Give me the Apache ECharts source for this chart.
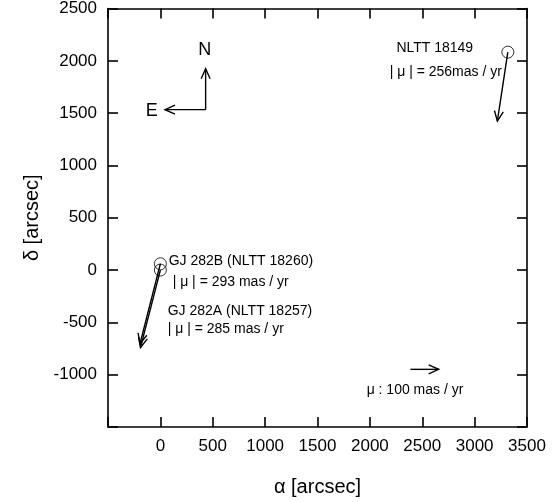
<!DOCTYPE html>
<html>
<head>
<meta charset="utf-8">
<script src="https://cdn.jsdelivr.net/npm/echarts@6/dist/echarts.min.js"></script>
<style>
html, body { margin: 0; padding: 0; background: #fff; }
#main { width: 558px; height: 502px; }
</style>
</head>
<body>
<div id="main"></div>
<script>
// star positions [alpha, delta] in arcsec
var stars = [[3317, 2083], [0, 60], [0, 0]];
// proper motion arrows [x0, y0, x1, y1]
var motions = [
    [3317, 2083, 3217, 1424],
    [0, 60, -195, -705],
    [0, 0, -190, -740]
];
// compass and scale arrows
var compass = [[432, 1533, 432, 1924], [432, 1533, 44, 1533]];
var scaleArrow = [[2387, -949, 2657, -949]];
// text notes [x, y, text]
var notes = [
    [2253, 2118, 'NLTT 18149'],
    [2189, 1889, '| μ | = 256mas / yr'],
    [79, 85, 'GJ 282B (NLTT 18260)'],
    [117, -116, '| μ | = 293 mas / yr'],
    [70, -393, 'GJ 282A (NLTT 18257)'],
    [70, -565, '| μ | = 285 mas / yr'],
    [1969, -1147, 'μ : 100 mas / yr']
];
var compassLabels = [[424, 2099, 'N'], [-83, 1517, 'E']];

var font = "'Liberation Sans', Arial, sans-serif";
var myChart = echarts.init(document.getElementById('main'));

function renderArrow(params, api) {
    var p0 = api.coord([api.value(0), api.value(1)]);
    var p1 = api.coord([api.value(2), api.value(3)]);
    var ang = Math.atan2(p1[1] - p0[1], p1[0] - p0[0]);
    var h = 11, a = 0.42;
    var l = [p1[0] - h * Math.cos(ang - a), p1[1] - h * Math.sin(ang - a)];
    var r = [p1[0] - h * Math.cos(ang + a), p1[1] - h * Math.sin(ang + a)];
    return {
        type: 'group',
        children: [
            { type: 'line', shape: { x1: p0[0], y1: p0[1], x2: p1[0], y2: p1[1] },
              style: { stroke: '#000', lineWidth: 1.4 } },
            { type: 'polyline', shape: { points: [l, p1, r] },
              style: { stroke: '#000', lineWidth: 1.4, fill: null } }
        ]
    };
}

function textRenderer(size, align) {
    return function (params, api) {
        var d = params.dataIndex;
        var arr = align === 'center' ? compassLabels : notes;
        var p = api.coord([arr[d][0], arr[d][1]]);
        return {
            type: 'text', x: p[0], y: p[1],
            style: { text: arr[d][2], font: size + 'px ' + font, fill: '#000',
                     align: align, verticalAlign: 'middle' }
        };
    };
}

var axisCommon = {
    type: 'value',
    interval: 500,
    axisLine: { onZero: false, lineStyle: { color: '#000', width: 1.6 } },
    axisTick: { inside: true, length: 10, lineStyle: { color: '#000', width: 1.6 } },
    splitLine: { show: false }
};

option = {
    backgroundColor: '#fff',
    animation: false,
    grid: { left: 108, top: 8, width: 419, height: 419 },
    xAxis: [
        Object.assign({}, axisCommon, {
            min: -500, max: 3500, position: 'bottom',
            axisLabel: { color: '#000', fontSize: 17, fontFamily: font, margin: 11,
                formatter: function (v) { return v < 0 ? '' : v; } },
            name: 'α [arcsec]', nameLocation: 'middle', nameGap: 50,
            nameTextStyle: { color: '#000', fontSize: 20, fontFamily: font }
        }),
        Object.assign({}, axisCommon, {
            min: -500, max: 3500, position: 'top', axisLabel: { show: false }
        })
    ],
    yAxis: [
        Object.assign({}, axisCommon, {
            min: -1500, max: 2500, position: 'left',
            axisLabel: { color: '#000', fontSize: 17, fontFamily: font, margin: 11,
                formatter: function (v) { return v < -1000 ? '' : v; } },
            name: 'δ [arcsec]', nameLocation: 'middle', nameGap: 65,
            nameTextStyle: { color: '#000', fontSize: 20, fontFamily: font }
        }),
        Object.assign({}, axisCommon, {
            min: -1500, max: 2500, position: 'right', axisLabel: { show: false }
        })
    ],
    series: [
        {
            type: 'scatter',
            data: stars,
            symbol: 'circle',
            symbolSize: 12,
            itemStyle: { color: 'transparent', borderColor: '#000', borderWidth: 1 }
        },
        { type: 'custom', renderItem: renderArrow, data: motions },
        { type: 'custom', renderItem: renderArrow, data: compass },
        { type: 'custom', renderItem: renderArrow, data: scaleArrow },
        { type: 'custom', renderItem: textRenderer(14, 'left'),
          data: notes.map(function (n) { return [n[0], n[1]]; }) },
        { type: 'custom', renderItem: textRenderer(18, 'center'),
          data: compassLabels.map(function (n) { return [n[0], n[1]]; }) }
    ]
};
myChart.setOption(option);
</script>
</body>
</html>
